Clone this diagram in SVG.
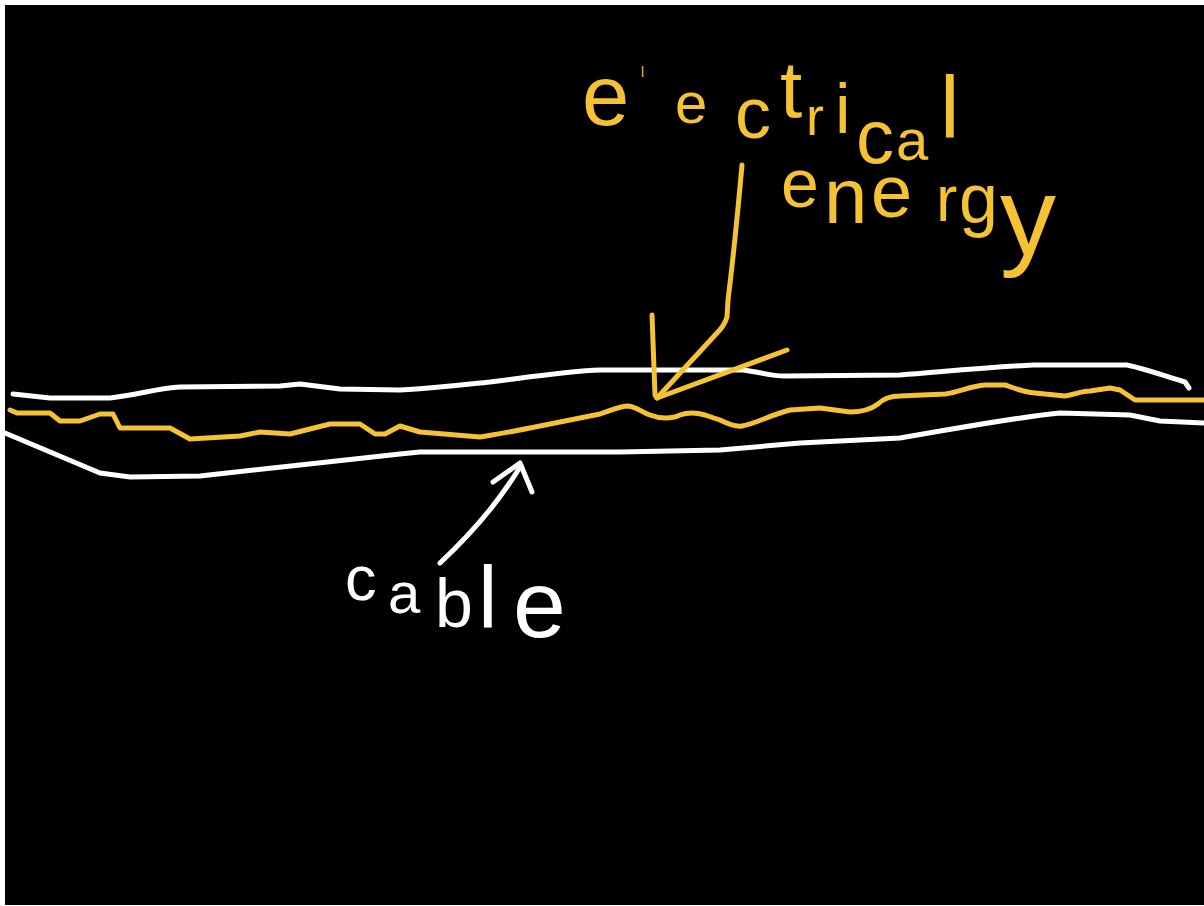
<svg xmlns="http://www.w3.org/2000/svg" width="1204" height="906" viewBox="0 0 1204 906">
<style>
.w{fill:none;stroke:#ffffff;stroke-width:5;stroke-linecap:round;stroke-linejoin:round}
.y{fill:none;stroke:#f4c232;stroke-width:5;stroke-linecap:round;stroke-linejoin:round}
.ty{fill:#f4c232;font-family:"Liberation Sans",Arial,sans-serif}
.tw{fill:#ffffff;font-family:"Liberation Sans",Arial,sans-serif}
</style>
<rect x="0" y="0" width="1204" height="906" fill="#ffffff"/>
<rect id="board" x="5" y="5" width="1199" height="900" fill="#000000"/>
<g id="cable">
<path class="w" d="M13,394 L50,398 L110,398 C140,394 160,388 180,387 L280,386 L300,384 L340,389 L400,390 C440,388 470,384 490,382 C530,377 570,371 600,370 L743,370 C760,372 770,376 785,376 L900,375 C950,371 990,367 1033,365 L1127,365 C1150,370 1170,378 1185,382 L1189,388"/>
<path class="w" d="M5,433 L100,473 L130,477 L200,476 L300,465 L400,454 L420,452 L620,452 L720,450 L800,443 L900,438 C960,428 1010,418 1060,413 L1130,415 L1160,421 L1204,423"/>
</g>
<g id="wire">
<path class="y" d="M10,410 L17,413 L50,413 L60,421 L80,421 L100,414 L113,414 L120,428 L170,428 L190,439 L240,436 L260,432 L290,434 L330,424 L360,424 L375,434 L385,434 L400,426 L420,432 L480,437 C500,434 520,430 540,426 L560,422 L600,414 C612,410 620,406 628,406 C638,407 642,413 650,415 C660,419 672,419 680,415 C688,412 695,412 705,415 L720,420 C728,424 735,427 742,426 C755,424 770,415 790,410 L820,408 L850,412 C862,412 870,410 878,404 C884,398 890,396 900,396 L945,394 C960,392 970,386 985,385 L1005,385 C1015,388 1022,392 1035,393 L1065,396 C1075,395 1080,391 1090,391 L1110,388 L1120,390 L1135,400 L1204,400"/>
</g>
<g id="connectors">
<path class="y" d="M742,165 C738,210 733,260 728,300 L727,317 C725,324 722,328 717,333 L657,398"/>
<path class="y" d="M652,315 L655,395 L657,398 L787,350"/>
<path class="w" d="M440,563 C470,535 500,500 520,467"/>
<path class="w" d="M493,482 L520,463 L532,492"/>
</g>
<g id="label-electrical-energy">
<text class="ty"><tspan x="582" y="125" font-size="85">e</tspan><tspan x="641" y="77" font-size="14">l</tspan><tspan x="675" y="123" font-size="58">e</tspan><tspan x="735" y="138" font-size="72">c</tspan><tspan x="780" y="117" font-size="80">t</tspan><tspan x="806" y="135" font-size="54">r</tspan><tspan x="835" y="133" font-size="70">i</tspan><tspan x="856" y="163" font-size="76">c</tspan><tspan x="896" y="160" font-size="58">a</tspan><tspan x="940" y="137" font-size="88">l</tspan></text>
<text class="ty"><tspan x="781" y="207" font-size="68">e</tspan><tspan x="824" y="223" font-size="78">n</tspan><tspan x="871" y="217" font-size="74">e</tspan><tspan x="936" y="221" font-size="64">r</tspan><tspan x="959" y="223" font-size="70">g</tspan><tspan x="1000" y="255" font-size="112">y</tspan></text>
</g>
<g id="label-cable">
<text class="tw"><tspan x="345" y="600" font-size="63">c</tspan><tspan x="388" y="613" font-size="58">a</tspan><tspan x="435" y="627" font-size="68">b</tspan><tspan x="478" y="627" font-size="88">l</tspan><tspan x="513" y="637" font-size="95">e</tspan></text>
</g>
</svg>
